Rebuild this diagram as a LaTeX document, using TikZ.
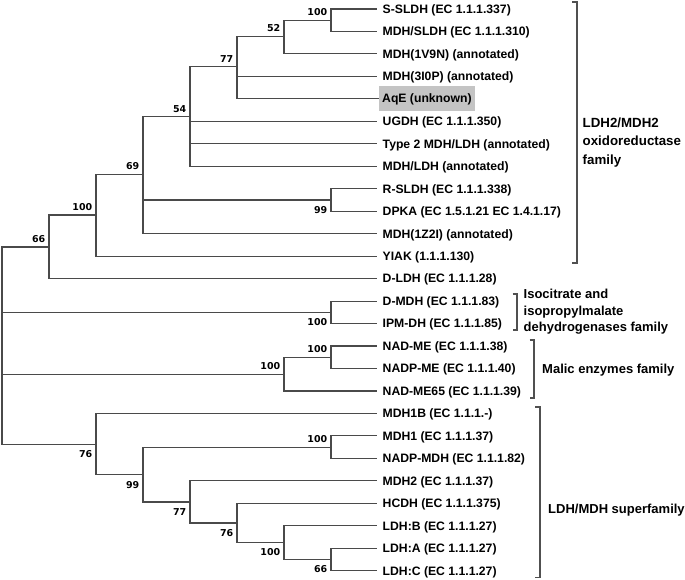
\documentclass[tikz,border=0pt]{standalone}
\usepackage{fontspec}
\setmainfont{Liberation Sans}
\newfontfamily\bootfont{DejaVu Sans}
\usepackage{tikz}
\definecolor{branch}{HTML}{4A4A4A}
\definecolor{bracket}{HTML}{505050}
\definecolor{hilite}{HTML}{C4C4C4}

\begin{document}
\begin{tikzpicture}[
    x=1pt, y=-1pt,
    edge/.style={draw=branch, line width=1.1pt},
    leaf/.style={anchor=west, inner xsep=5.5pt, inner ysep=0pt, text height=8.7pt, text depth=0pt, font=\fontsize{12.2}{14}\selectfont\bfseries},
    bootup/.style={anchor=south east, inner sep=0pt, xshift=-3.5pt, yshift=4.2pt, font=\bootfont\fontsize{9.5}{11}\selectfont\bfseries},
    bootdn/.style={anchor=north east, inner sep=0pt, xshift=-3.5pt, yshift=-6.2pt, font=\bootfont\fontsize{9.5}{11}\selectfont\bfseries},
    clade/.style={draw=bracket, line width=1.2pt},
    family/.style 2 args={anchor=west, align=left, inner sep=0pt, font=\fontsize{#1}{#2}\selectfont\bfseries},
]
    \useasboundingbox (0,0) rectangle (685,580);

    % Leaves
    \node[leaf] (sSLDH) at (377, 9) {S-SLDH (EC 1.1.1.337)};
    \node[leaf] (mdhSLDH) at (377, 31.5) {MDH/SLDH (EC 1.1.1.310)};
    \node[leaf] (mdhOneV) at (377, 53.9) {MDH(1V9N) (annotated)};
    \node[leaf] (mdhThreeI) at (377, 76.4) {MDH(3I0P) (annotated)};
    \node[leaf, fill=hilite, inner xsep=3pt, inner ysep=8pt] (aqE) at (379, 98.5) {AqE (unknown)};
    \node[leaf] (ugdh) at (377, 121.4) {UGDH (EC 1.1.1.350)};
    \node[leaf] (typeTwo) at (377, 143.8) {Type 2 MDH/LDH (annotated)};
    \node[leaf] (mdhLDH) at (377, 166.3) {MDH/LDH (annotated)};
    \node[leaf] (rSLDH) at (377, 188.8) {R-SLDH (EC 1.1.1.338)};
    \node[leaf] (dpka) at (377, 211.2) {DPKA (EC 1.5.1.21 EC 1.4.1.17)};
    \node[leaf] (mdhOneZ) at (377, 233.7) {MDH(1Z2I) (annotated)};
    \node[leaf] (yiak) at (377, 256.2) {YIAK (1.1.1.130)};
    \node[leaf] (dLDH) at (377, 278.6) {D-LDH (EC 1.1.1.28)};
    \node[leaf] (dMDH) at (377, 301.1) {D-MDH (EC 1.1.1.83)};
    \node[leaf] (ipmDH) at (377, 323.6) {IPM-DH (EC 1.1.1.85)};
    \node[leaf] (nadME) at (377, 346) {NAD-ME (EC 1.1.1.38)};
    \node[leaf] (nadpME) at (377, 368.5) {NADP-ME (EC 1.1.1.40)};
    \node[leaf] (nadMEsf) at (377, 391) {NAD-ME65 (EC 1.1.1.39)};
    \node[leaf] (mdhOneB) at (377, 413.5) {MDH1B (EC 1.1.1.-)};
    \node[leaf] (mdhOne) at (377, 435.9) {MDH1 (EC 1.1.1.37)};
    \node[leaf] (nadpMDH) at (377, 458.4) {NADP-MDH (EC 1.1.1.82)};
    \node[leaf] (mdhTwo) at (377, 480.9) {MDH2 (EC 1.1.1.37)};
    \node[leaf] (hcdh) at (377, 503.3) {HCDH (EC 1.1.1.375)};
    \node[leaf] (ldhB) at (377, 525.8) {LDH:B (EC 1.1.1.27)};
    \node[leaf] (ldhA) at (377, 548.3) {LDH:A (EC 1.1.1.27)};
    \node[leaf] (ldhC) at (377, 570.7) {LDH:C (EC 1.1.1.27)};

    % Internal nodes
    \coordinate (root) at (2, 345);
    \coordinate (nSSLDH) at (331, 20.2);
    \coordinate (nFiftyTwo) at (284, 36.5);
    \coordinate (nSeventySeven) at (237, 66.7);
    \coordinate (nFiftyFour) at (190, 116.7);
    \coordinate (nRSLDH) at (331, 200);
    \coordinate (nSixtyNine) at (143, 174.3);
    \coordinate (nYIAK) at (96, 215);
    \coordinate (nSixtySix) at (49, 247);
    \coordinate (nIso) at (331, 312.3);
    \coordinate (nNADME) at (331, 357.3);
    \coordinate (nMalic) at (284, 374.3);
    \coordinate (nMDHOne) at (331, 447.2);
    \coordinate (nLDHAC) at (331, 559.5);
    \coordinate (nLDHB) at (284, 542.5);
    \coordinate (nHCDH) at (237, 523);
    \coordinate (nMDHTwo) at (190, 502);
    \coordinate (nNinetyNine) at (143, 474.6);
    \coordinate (nSuper) at (96, 444.3);

    % Branches
    \draw[edge] (nSSLDH) |- (sSLDH.west) (nSSLDH) |- (mdhSLDH.west);
    \draw[edge] (nFiftyTwo) |- (nSSLDH) (nFiftyTwo) |- (mdhOneV.west);
    \draw[edge] (nSeventySeven) |- (nFiftyTwo) (nSeventySeven) |- (mdhThreeI.west) (nSeventySeven) |- (aqE.west);
    \draw[edge] (nFiftyFour) |- (nSeventySeven) (nFiftyFour) |- (ugdh.west) (nFiftyFour) |- (typeTwo.west) (nFiftyFour) |- (mdhLDH.west);
    \draw[edge] (nRSLDH) |- (rSLDH.west) (nRSLDH) |- (dpka.west);
    \draw[edge] (nSixtyNine) |- (nFiftyFour) (nSixtyNine) |- (nRSLDH) (nSixtyNine) |- (mdhOneZ.west);
    \draw[edge] (nYIAK) |- (nSixtyNine) (nYIAK) |- (yiak.west);
    \draw[edge] (nSixtySix) |- (nYIAK) (nSixtySix) |- (dLDH.west);
    \draw[edge] (nIso) |- (dMDH.west) (nIso) |- (ipmDH.west);
    \draw[edge] (nNADME) |- (nadME.west) (nNADME) |- (nadpME.west);
    \draw[edge] (nMalic) |- (nNADME) (nMalic) |- (nadMEsf.west);
    \draw[edge] (nMDHOne) |- (mdhOne.west) (nMDHOne) |- (nadpMDH.west);
    \draw[edge] (nLDHAC) |- (ldhA.west) (nLDHAC) |- (ldhC.west);
    \draw[edge] (nLDHB) |- (ldhB.west) (nLDHB) |- (nLDHAC);
    \draw[edge] (nHCDH) |- (hcdh.west) (nHCDH) |- (nLDHB);
    \draw[edge] (nMDHTwo) |- (mdhTwo.west) (nMDHTwo) |- (nHCDH);
    \draw[edge] (nNinetyNine) |- (nMDHOne) (nNinetyNine) |- (nMDHTwo);
    \draw[edge] (nSuper) |- (mdhOneB.west) (nSuper) |- (nNinetyNine);
    \draw[edge] (root) |- (nSixtySix) (root) |- (nIso) (root) |- (nMalic) (root) |- (nSuper);

    % Bootstrap values
    \node[bootup] (bSSLDH) at (nSSLDH) {100};
    \node[bootup] (bFiftyTwo) at (nFiftyTwo) {52};
    \node[bootup] (bSeventySeven) at (nSeventySeven) {77};
    \node[bootup] (bFiftyFour) at (nFiftyFour) {54};
    \node[bootdn] (bRSLDH) at (nRSLDH) {99};
    \node[bootup] (bSixtyNine) at (nSixtyNine) {69};
    \node[bootup] (bYIAK) at (nYIAK) {100};
    \node[bootup] (bSixtySix) at (nSixtySix) {66};
    \node[bootdn] (bIso) at (nIso) {100};
    \node[bootup] (bNADME) at (nNADME) {100};
    \node[bootup] (bMalic) at (nMalic) {100};
    \node[bootup] (bMDHOne) at (nMDHOne) {100};
    \node[bootdn] (bLDHAC) at (nLDHAC) {66};
    \node[bootdn] (bLDHB) at (nLDHB) {100};
    \node[bootdn] (bHCDH) at (nHCDH) {76};
    \node[bootdn] (bMDHTwo) at (nMDHTwo) {77};
    \node[bootdn] (bNinetyNine) at (nNinetyNine) {99};
    \node[bootdn] (bSuper) at (nSuper) {76};

    % Family brackets
    \draw[clade] (572, 2) -- (577, 2) -- (577, 263) -- (572, 263);
    \draw[clade] (512.5, 294) -- (517, 294) -- (517, 330) -- (512.5, 330);
    \draw[clade] (529.5, 340) -- (534, 340) -- (534, 398) -- (529.5, 398);
    \draw[clade] (535, 407) -- (540, 407) -- (540, 577.5) -- (535, 577.5);

    \node[family={13.3}{18.3}] (fLDHTwo) at (582.5, 142.5) {LDH2/MDH2\\oxidoreductase\\family};
    \node[family={13}{16.7}] (fIso) at (523.5, 311.7) {Isocitrate and\\isopropylmalate\\dehydrogenases family};
    \node[family={13}{16}] (fMalic) at (542, 370.5) {Malic enzymes family};
    \node[family={13}{16}] (fSuper) at (548, 510.5) {LDH/MDH superfamily};

\end{tikzpicture}
\end{document}
